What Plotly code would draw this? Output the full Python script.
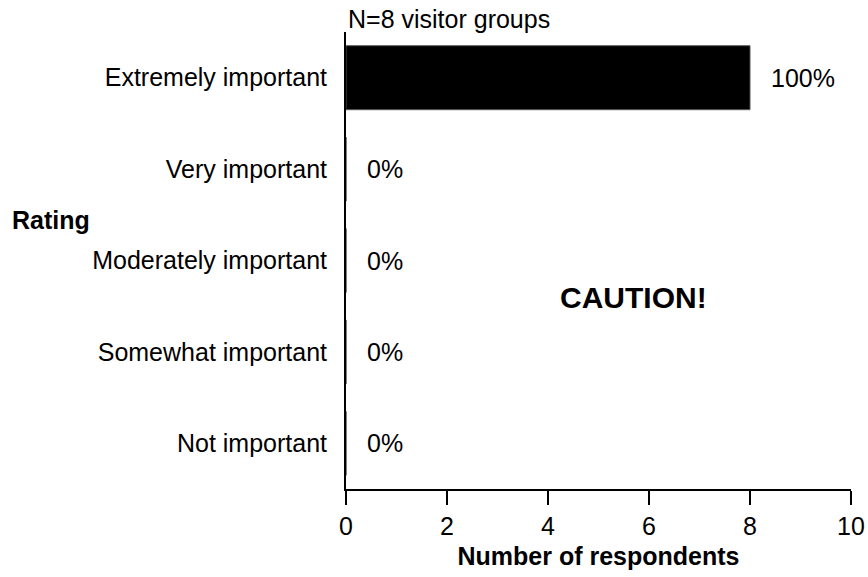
import plotly.graph_objects as go

categories = ["Not important", "Somewhat important", "Moderately important",
              "Very important", "Extremely important"]
counts = [0, 0, 0, 0, 8]
pct_labels = ["0%", "0%", "0%", "0%", "100%"]
x_ticks = [0, 2, 4, 6, 8, 10]

FONT = "Liberation Sans, Arial, sans-serif"
FS = 25

fig = go.Figure()
fig.add_trace(go.Bar(
    x=counts, y=categories, orientation="h", width=0.7,
    marker=dict(color="black", line=dict(color="#555555", width=1)),
    hoverinfo="skip",
))

for c, v, t in zip(categories, counts, pct_labels):
    fig.add_annotation(x=v, y=c, text=t, showarrow=False, xanchor="left",
                       xshift=19, font=dict(size=FS, color="black", family=FONT))

fig.add_annotation(xref="paper", yref="paper", x=0, y=1, yshift=-3,
                   text="N=8 visitor groups", showarrow=False,
                   xanchor="left", yanchor="bottom",
                   font=dict(size=FS, color="black", family=FONT))
fig.add_annotation(xref="paper", yref="paper", x=-0.665, xanchor="left",
                   y=0.589, text="<b>Rating</b>", showarrow=False,
                   font=dict(size=FS, color="black", family=FONT))
fig.add_annotation(xref="paper", yref="paper", x=0.570, y=0.42,
                   text="<b>CAUTION!</b>", showarrow=False,
                   font=dict(size=30, color="black", family=FONT))

fig.update_layout(
    width=868, height=577,
    margin=dict(l=346, r=17, t=32, b=88),
    plot_bgcolor="white", paper_bgcolor="white",
    showlegend=False,
    font=dict(family=FONT, size=FS, color="black"),
    xaxis=dict(range=[0, 10], tickvals=x_ticks, ticks="outside", ticklen=14,
               tickwidth=2, tickcolor="black", showline=True, linecolor="black",
               linewidth=2, showgrid=False, zeroline=False, automargin=False,
               title=dict(text="<b>Number of respondents</b>", standoff=8,
                          font=dict(size=FS)),
               tickfont=dict(size=FS)),
    yaxis=dict(categoryorder="array", categoryarray=categories,
               range=[-0.5, 4.5], showline=True, linecolor="black", linewidth=2,
               ticks="", showgrid=False, zeroline=False, ticklabelstandoff=12,
               automargin=False, tickfont=dict(size=FS)),
)

fig.write_html("out.html",
               config={"displayModeBar": False},
               post_script="document.body.style.margin='0';"
                           "document.body.style.overflow='hidden';")
